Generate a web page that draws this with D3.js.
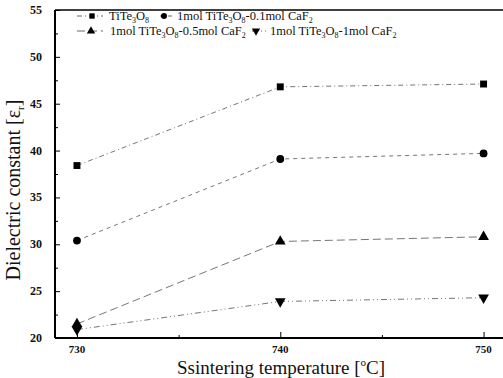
<!DOCTYPE html>
<html>
<head>
<meta charset="utf-8">
<script src="https://cdn.jsdelivr.net/npm/d3@7"></script>
<style>
  body { margin: 0; background: #fff; }
  svg { display: block; }
  text { font-family: "Liberation Serif", "DejaVu Serif", serif; fill: #111; }
</style>
</head>
<body>
<div id="chart"></div>
<script>
// Data
const temps = [730, 740, 750];
const seriesNames = ["TiTe3O8", "1mol TiTe3O8-0.1mol CaF2", "1mol TiTe3O8-0.5mol CaF2", "1mol TiTe3O8-1mol CaF2"];
const pureValues = [38.4, 46.8, 47.1];
const caf01Values = [30.4, 39.1, 39.7];
const caf05Values = [21.5, 30.3, 30.8];
const caf1Values = [20.9, 23.9, 24.3];
const yTicks = [20, 25, 30, 35, 40, 45, 50, 55];
const xTicks = [730, 740, 750];

const W = 503, H = 378;
const margin = {top: 10, right: -7, bottom: 40, left: 55};
const width = W - margin.left - margin.right,
      height = H - margin.top - margin.bottom;

const svg = d3.select("#chart").append("svg")
  .attr("width", W).attr("height", H);
const g = svg.append("g").attr("transform", `translate(${margin.left},${margin.top})`);

const x = d3.scaleLinear().domain([728.92, 751.3]).range([0, width]);
const y = d3.scaleLinear().domain([20, 55]).range([height, 0]);

// frame: left, bottom and top (right edge is cut off in the figure)
g.append("line").attr("x1", 0).attr("x2", 0).attr("y1", 0).attr("y2", height)
  .attr("stroke", "#000").attr("stroke-width", 2);
g.append("line").attr("x1", 0).attr("x2", width).attr("y1", height).attr("y2", height)
  .attr("stroke", "#000").attr("stroke-width", 2);
g.append("line").attr("x1", 0).attr("x2", width).attr("y1", 0).attr("y2", 0)
  .attr("stroke", "#000").attr("stroke-width", 1.5);

// y ticks (inward)
g.append("g")
  .call(d3.axisRight(y).tickValues(yTicks).tickSize(5).tickFormat(""))
  .select(".domain").remove();
g.append("g")
  .call(d3.axisRight(y).tickValues(d3.range(22.5, 55, 5)).tickSize(3).tickFormat(""))
  .select(".domain").remove();
yTicks.forEach(v => {
  g.append("text").attr("x", -13).attr("y", y(v) + 4)
    .attr("text-anchor", "end").attr("font-size", 12).attr("font-weight", "bold")
    .text(v);
});

// x ticks (inward)
g.append("g").attr("transform", `translate(0,${height})`)
  .call(d3.axisTop(x).tickValues(xTicks).tickSize(6).tickFormat(""))
  .select(".domain").remove();
g.append("g").attr("transform", `translate(0,${height})`)
  .call(d3.axisTop(x).tickValues([735, 745]).tickSize(3).tickFormat(""))
  .select(".domain").remove();
xTicks.forEach(v => {
  g.append("text").attr("x", x(v)).attr("y", height + 15)
    .attr("text-anchor", "middle").attr("font-size", 11).attr("font-weight", "bold")
    .text(v);
});

// axis titles
svg.append("text")
  .attr("x", 281).attr("y", 374)
  .attr("text-anchor", "middle").attr("font-size", 19)
  .html('Ssintering temperature [<tspan dy="-8" font-size="11">o</tspan><tspan dy="8">C]</tspan>');
svg.append("text")
  .attr("transform", "translate(20,190) rotate(-90)")
  .attr("text-anchor", "middle").attr("font-size", 20)
  .html('Dielectric constant [ε<tspan dy="4" font-size="11">r</tspan><tspan dy="-4">]</tspan>');

// series
const series = [
  {name: seriesNames[0], values: pureValues, shape: d3.symbolSquare, size: 48, rot: 0, dash: "5,3,1,3"},
  {name: seriesNames[1], values: caf01Values, shape: d3.symbolCircle, size: 48, rot: 0, dash: "4,4"},
  {name: seriesNames[2], values: caf05Values, shape: d3.symbolTriangle, size: 50, rot: 0, dash: "8,4"},
  {name: seriesNames[3], values: caf1Values, shape: d3.symbolTriangle, size: 50, rot: 180, dash: "6,3,1,3,1,3"}
];

const line = d3.line().x((d, i) => x(temps[i])).y(d => y(d));

series.forEach(s => {
  g.append("path").datum(s.values)
    .attr("d", line).attr("fill", "none")
    .attr("stroke", "#666").attr("stroke-width", 0.9)
    .attr("stroke-dasharray", s.dash);
  s.values.forEach((v, i) => {
    g.append("path")
      .attr("d", d3.symbol().type(s.shape).size(s.size))
      .attr("transform", `translate(${x(temps[i])},${y(v)}) rotate(${s.rot})`)
      .attr("fill", "#000");
  });
});

// legend: digits after Te, O, F are subscripts
function formula(sel, name) {
  const parts = name.split(/(?<=Te|O|F)(\d)/);
  parts.forEach((p, i) => {
    if (p === "") return;
    const sub = i % 2 === 1;
    const t = sel.append("tspan").text(p);
    if (sub) t.attr("dy", 3).attr("font-size", 8);
    else if (i > 0) t.attr("dy", -3);
  });
}
const legendItems = [
  {s: series[0], lx1: 77, lx2: 103, mx: 92, tx: 109, ty: 20},
  {s: series[1], lx1: 160, lx2: 173, mx: 164, tx: 177, ty: 20},
  {s: series[2], lx1: 77, lx2: 103, mx: 91, tx: 110, ty: 35},
  {s: series[3], lx1: 252, lx2: 266, mx: 256, tx: 270, ty: 35}
];
legendItems.forEach(it => {
  svg.append("line").attr("x1", it.lx1).attr("x2", it.lx2)
    .attr("y1", it.ty - 4).attr("y2", it.ty - 4)
    .attr("stroke", "#555").attr("stroke-width", 0.9)
    .attr("stroke-dasharray", it.s.dash);
  svg.append("path")
    .attr("d", d3.symbol().type(it.s.shape).size(it.s.size * 0.6))
    .attr("transform", `translate(${it.mx},${it.ty - 4}) rotate(${it.s.rot})`)
    .attr("fill", "#000");
  const t = svg.append("text").attr("x", it.tx).attr("y", it.ty).attr("font-size", 12.5);
  formula(t, it.s.name);
});
</script>
</body>
</html>
